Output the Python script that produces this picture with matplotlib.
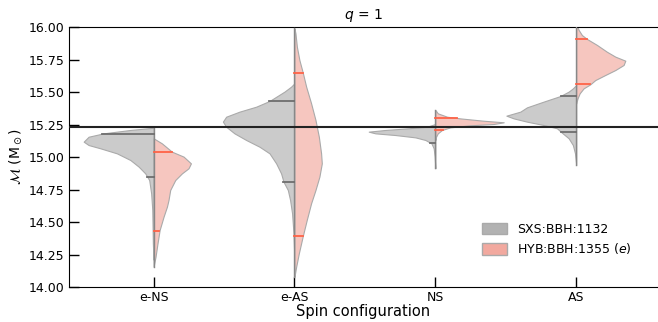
"""Split violins of chirp mass posteriors for the q = 1 runs"""

import matplotlib.pyplot as plt
import matplotlib.patches as mpatches
import numpy as np

configs = ['e-NS', 'e-AS', 'NS', 'AS']
true_mchirp = 15.232

# outline of each half: chirp mass values and half widths (x units)
sxs_y = [
    [15.225, 15.208, 15.182, 15.156, 15.118, 15.092, 15.067, 15.028, 14.977,
     14.926, 14.874, 14.823, 14.720, 14.592, 14.336, 14.21],
    [15.567, 15.541, 15.503, 15.431, 15.387, 15.349, 15.310, 15.272, 15.233,
     15.182, 15.131, 15.079, 15.028, 14.951, 14.874, 14.810, 14.746, 14.669,
     14.567, 14.413, 14.259, 14.079],
    [15.254, 15.233, 15.221, 15.208, 15.195, 15.182, 15.169, 15.151, 15.131,
     15.105, 15.067, 15.003, 14.913],
    [15.554, 15.528, 15.503, 15.469, 15.426, 15.382, 15.349, 15.318, 15.297,
     15.272, 15.246, 15.221, 15.187, 15.144, 15.092, 15.028, 14.938],
]
sxs_w = [
    [0.0, 0.165, 0.355, 0.461, 0.496, 0.461, 0.378, 0.260, 0.165, 0.106,
     0.059, 0.031, 0.017, 0.009, 0.005, 0.0],
    [0.0, 0.024, 0.071, 0.177, 0.272, 0.390, 0.485, 0.508, 0.485, 0.426,
     0.343, 0.248, 0.177, 0.130, 0.095, 0.078, 0.047, 0.031, 0.017, 0.007,
     0.002, 0.0],
    [0.0, 0.059, 0.189, 0.355, 0.473, 0.426, 0.284, 0.142, 0.071, 0.028,
     0.012, 0.005, 0.0],
    [0.0, 0.024, 0.054, 0.113, 0.232, 0.350, 0.397, 0.496, 0.444, 0.350,
     0.232, 0.137, 0.102, 0.054, 0.024, 0.009, 0.0],
]
hyb_y = [
    [15.144, 15.105, 15.041, 15.003, 14.951, 14.913, 14.874, 14.823, 14.746,
     14.669, 14.618, 14.541, 14.438, 14.336, 14.233, 14.156],
    [15.990, 15.951, 15.849, 15.746, 15.649, 15.541, 15.413, 15.285, 15.156,
     15.028, 14.951, 14.849, 14.746, 14.644, 14.515, 14.392, 14.259, 14.156,
     14.079],
    [15.362, 15.336, 15.310, 15.297, 15.279, 15.267, 15.254, 15.244, 15.228,
     15.208, 15.182, 15.156, 15.131],
    [16.0, 15.977, 15.938, 15.908, 15.862, 15.810, 15.772, 15.741, 15.708,
     15.669, 15.631, 15.592, 15.559, 15.528, 15.490, 15.451, 15.413],
]
hyb_w = [
    [0.0, 0.059, 0.130, 0.213, 0.265, 0.248, 0.201, 0.154, 0.118, 0.106,
     0.095, 0.071, 0.043, 0.028, 0.014, 0.0],
    [0.0, 0.007, 0.017, 0.035, 0.059, 0.083, 0.118, 0.149, 0.173, 0.189,
     0.194, 0.177, 0.149, 0.118, 0.087, 0.059, 0.031, 0.012, 0.0],
    [0.0, 0.017, 0.083, 0.177, 0.343, 0.485, 0.414, 0.248, 0.106, 0.047,
     0.017, 0.005, 0.0],
    [0.008, 0.017, 0.040, 0.076, 0.147, 0.217, 0.277, 0.348, 0.336, 0.277,
     0.206, 0.135, 0.099, 0.052, 0.024, 0.009, 0.0],
]

# 90% interval bounds drawn inside each half
sxs_q = [(15.18, 14.85), (15.43, 14.81), (15.23, 15.11), (15.47, 15.19)]
hyb_q = [(15.04, 14.43), (15.65, 14.39), (15.30, 15.21), (15.91, 15.56)]

sxs_fill, sxs_leg = '#cbcbcb', '#b2b2b2'
hyb_fill, hyb_leg = '#f6c6bf', '#f2a99f'
edge = '#aaaaaa'


def half_width(ys, ws, y):
    order = np.argsort(ys)
    return np.interp(y, np.asarray(ys)[order], np.asarray(ws)[order])


fig = plt.figure(figsize=(6.58, 3.22), dpi=100)
ax = fig.add_axes([0.1049, 0.1087, 0.8951, 0.8074])

for i in range(len(configs)):
    ys, ws = np.asarray(sxs_y[i]), np.asarray(sxs_w[i])
    ax.fill_betweenx(ys, i - ws, i, facecolor=sxs_fill, edgecolor=edge,
                     linewidth=0.8, zorder=2)
    yr, wr = np.asarray(hyb_y[i]), np.asarray(hyb_w[i])
    ax.fill_betweenx(yr, i, i + wr, facecolor=hyb_fill, edgecolor=edge,
                     linewidth=0.8, zorder=2)
    lo = min(ys.min(), yr.min())
    hi = max(ys.max(), yr.max())
    ax.plot([i, i], [lo, hi], color='#888888', linewidth=1.0, zorder=3)
    for q in sxs_q[i]:
        ax.plot([i - half_width(ys, ws, q), i], [q, q], color='#6e6e6e',
                linewidth=1.3, zorder=4)
    for q in hyb_q[i]:
        ax.plot([i, i + half_width(yr, wr, q)], [q, q], color='tomato',
                linewidth=1.3, zorder=4)

ax.axhline(true_mchirp, color='#222222', linewidth=1.5, zorder=5)

ax.set_xlim(-0.6, 3.58)
ax.set_ylim(14.0, 16.0)
ax.set_xticks(range(len(configs)))
ax.set_xticklabels(configs)
ax.set_yticks(np.arange(14.0, 16.01, 0.25))
ax.set_yticklabels([f'{v:.2f}' for v in np.arange(14.0, 16.01, 0.25)])
ax.tick_params(axis='both', direction='in', length=7, width=1, labelsize=9,
               colors='black')
ax.tick_params(axis='x', pad=3)
ax.spines['right'].set_visible(False)
ax.set_xlabel('Spin configuration', fontsize=10.5, labelpad=0)
ax.set_ylabel(r'$\mathcal{M}$ (M$_\odot$)', fontsize=10, labelpad=3)
ax.set_title(r'$q$ = 1', fontsize=10, pad=6)

handles = [
    mpatches.Patch(facecolor=sxs_leg, edgecolor=edge, label='SXS:BBH:1132'),
    mpatches.Patch(facecolor=hyb_leg, edgecolor=edge, label=r'HYB:BBH:1355 ($e$)'),
]
ax.legend(handles=handles, loc='lower right', frameon=False, fontsize=9,
          bbox_to_anchor=(0.975, 0.075), handlelength=2.0, handleheight=1.0,
          labelspacing=0.45, handletextpad=0.8)

fig.savefig('out.png', dpi=100)
